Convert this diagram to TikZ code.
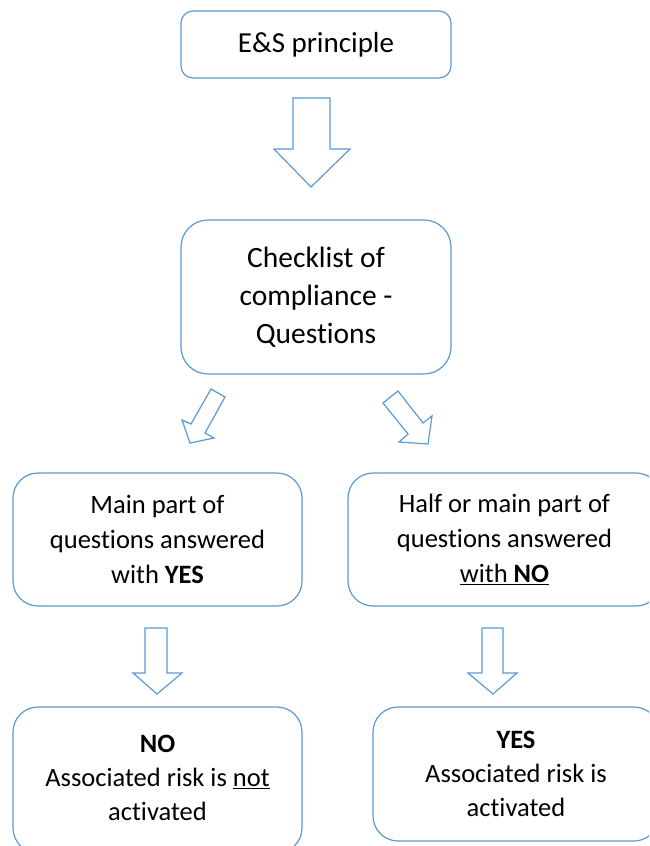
\documentclass[tikz,border=0pt]{standalone}
\usepackage{fontspec}
\setmainfont{Carlito}[Ligatures=NoCommon]
\definecolor{boxblue}{RGB}{91,155,213}
\tikzset{
  flowbox/.style={draw=boxblue, line width=1.2pt, rectangle, align=center, inner sep=0pt, text=black},
  blockarrow/.style={draw=boxblue, line width=1.2pt, fill=white, line join=miter}
}
\begin{document}
\begin{tikzpicture}[x=1pt,y=-1pt]
\useasboundingbox (0,0) rectangle (649,846);
\clip (0,0) rectangle (649,846);
\fill[white] (0,0) rectangle (649,846);

\node[flowbox, rounded corners=12pt, minimum width=270pt, minimum height=67pt,
      font=\fontsize{29}{34}\selectfont] (b1) at (316,44.5) {E\&S principle};

\node[flowbox, rounded corners=27pt, minimum width=270pt, minimum height=154pt,
      font=\fontsize{29.5}{38}\selectfont] (b2) at (316,297) {Checklist of\\compliance -\\Questions};

\node[flowbox, rounded corners=25pt, minimum width=289pt, minimum height=133pt,
      font=\fontsize{26.5}{35}\selectfont] (b3) at (157.5,539.5) {Main part of\\questions answered\\with \textbf{YES}};

\node[flowbox, rounded corners=25pt, minimum width=313pt, minimum height=133pt,
      font=\fontsize{26.5}{35}\selectfont] (b4) at (504.5,539.5) {Half or main part of\\questions answered\\\underline{with \textbf{NO}}};

\node[flowbox, rounded corners=25pt, minimum width=289pt, minimum height=146pt,
      font=\fontsize{26.5}{34}\selectfont] (b5) at (157.5,780) {\textbf{NO}\\Associated risk is \underline{not}\\activated\vphantom{g}};

\node[flowbox, rounded corners=25pt, minimum width=286pt, minimum height=134pt,
      font=\fontsize{26.5}{34}\selectfont] (b6) at (516,774) {\textbf{YES}\\Associated risk is\\activated};

% block arrows
\draw[blockarrow] (293,98) -- (330,98) -- (330,149) -- (350,149) -- (311,187)
  -- (274,149) -- (293,149) -- cycle;

\draw[blockarrow] (211,389) -- (225,397) -- (205,433) -- (214,438) -- (190,443)
  -- (182,420) -- (191,424) -- cycle;

\draw[blockarrow] (383,403) -- (398,391) -- (423,423) -- (432,416) -- (428,444)
  -- (399,442) -- (408,434) -- cycle;

\draw[blockarrow] (145,628) -- (167,628) -- (167,673) -- (182,673) -- (157,694)
  -- (133,673) -- (145,673) -- cycle;

\draw[blockarrow] (482,628) -- (503,628) -- (503,673) -- (517,673) -- (493,694)
  -- (468,673) -- (482,673) -- cycle;
\end{tikzpicture}
\end{document}
